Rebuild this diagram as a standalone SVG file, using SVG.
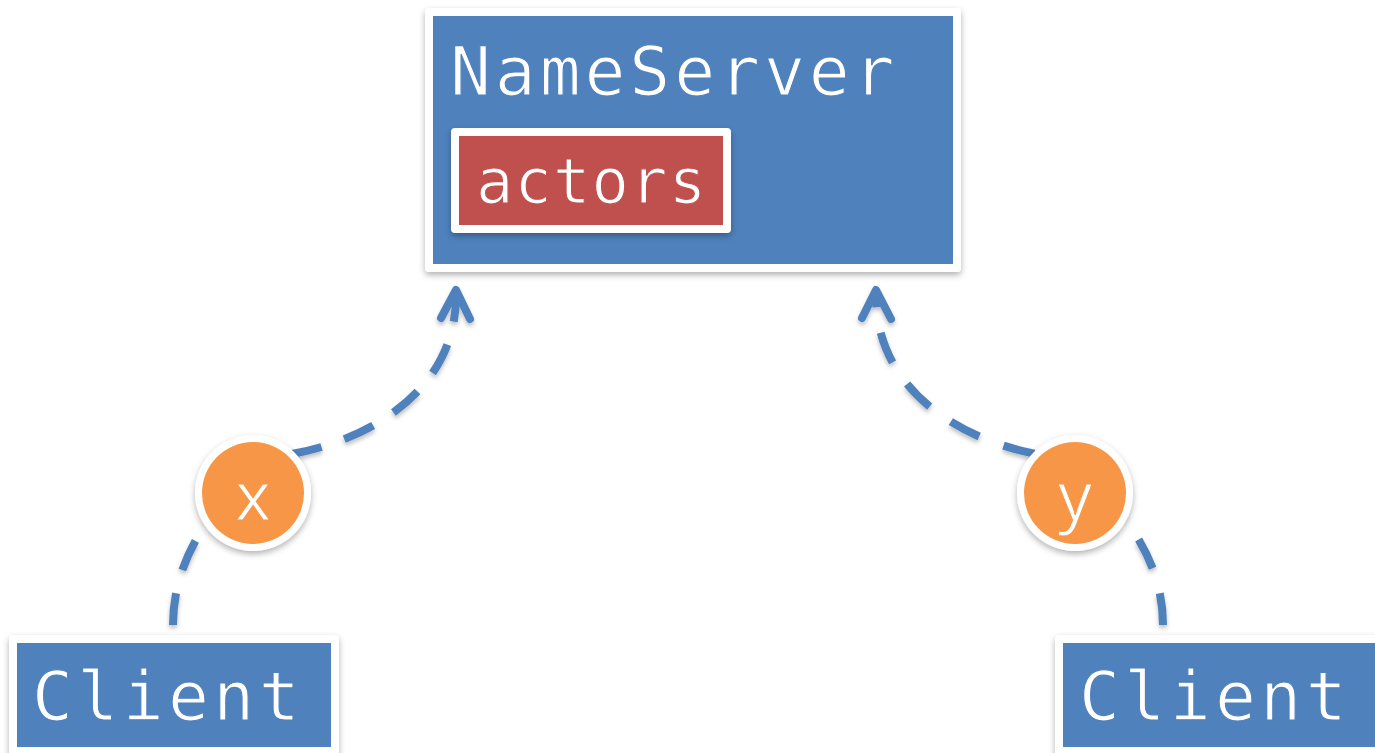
<svg xmlns="http://www.w3.org/2000/svg" width="1375" height="753" viewBox="0 0 1375 753">
  <defs>
    <filter id="shadow" x="-20%" y="-20%" width="140%" height="150%">
      <feDropShadow dx="0" dy="3" stdDeviation="3" flood-color="#000" flood-opacity="0.3"/>
    </filter>
    <filter id="lineShadow" x="-20%" y="-20%" width="140%" height="140%">
      <feDropShadow dx="0" dy="3" stdDeviation="2" flood-color="#000" flood-opacity="0.25"/>
    </filter>
  </defs>
  <style>
    .frame { fill: #ffffff; }
    .blue { fill: #4f81bd; }
    .red { fill: #c0504d; }
    .orange { fill: #f79646; }
    .mono { font-family: "DejaVu Sans Mono", "Liberation Mono", monospace; fill: #ffffff; stroke-width: 1.2; }
    .on-blue { stroke: #4f81bd; }
    .on-red { stroke: #c0504d; }
    .label { font-family: "Open Sans", "Liberation Sans", sans-serif; fill: #ffffff; font-size: 68px; text-anchor: middle; stroke: #f79646; stroke-width: 1; }
    .link { fill: none; stroke: #4f81bd; stroke-width: 8; stroke-dasharray: 32 24; }
    .link.wide { stroke-dasharray: 32 26; }
    .head { fill: none; stroke: #4f81bd; stroke-width: 8; stroke-linecap: round; stroke-linejoin: round; }
  </style>

  <!-- connectors: client -> label -> name server -->
  <g id="connectors" filter="url(#lineShadow)">
    <path class="link" d="M173,625 C173,560 210,510 260,458 C350,452 456,400 456,296"/>
    <path class="head" d="M441,318 L456,290 L470,319"/>
    <path class="link wide" d="M1163,625 C1163,560 1125,510 1068,458 C980,452 876,400 876,296"/>
    <path class="head" d="M862,318 L876,290 L891,319"/>
  </g>

  <!-- name server with its actors table -->
  <g id="nameserver">
    <rect class="frame" x="425" y="8" width="536" height="264" rx="4" filter="url(#shadow)"/>
    <rect class="blue" x="433" y="16" width="520" height="248"/>
    <text class="mono on-blue" x="450" y="95" font-size="68" letter-spacing="3.9">NameServer</text>
    <g id="actors">
      <rect class="frame" x="451" y="128" width="280" height="105" rx="4" filter="url(#shadow)"/>
      <rect class="red" x="459" y="136" width="264" height="89"/>
      <text class="mono on-red" x="476" y="203" font-size="62" letter-spacing="1.2">actors</text>
    </g>
  </g>

  <!-- clients -->
  <g id="client-left">
    <rect class="frame" x="9" y="635" width="330" height="126" rx="4" filter="url(#shadow)"/>
    <rect class="blue" x="17" y="643" width="314" height="104"/>
    <text class="mono on-blue" x="32" y="720" font-size="68" letter-spacing="4.4">Client</text>
  </g>
  <g id="client-right">
    <rect class="frame" x="1055" y="635" width="340" height="126" rx="4" filter="url(#shadow)"/>
    <rect class="blue" x="1063" y="643" width="330" height="104"/>
    <text class="mono on-blue" x="1079" y="720" font-size="68" letter-spacing="4.4">Client</text>
  </g>

  <!-- message labels -->
  <g id="msg-x">
    <circle class="frame" cx="253" cy="493" r="58" filter="url(#shadow)"/>
    <circle class="orange" cx="253" cy="493" r="51"/>
    <text class="label" x="253" y="520">x</text>
  </g>
  <g id="msg-y">
    <circle class="frame" cx="1075" cy="493" r="58" filter="url(#shadow)"/>
    <circle class="orange" cx="1075" cy="493" r="51"/>
    <text class="label" x="1075" y="520">y</text>
  </g>
</svg>
